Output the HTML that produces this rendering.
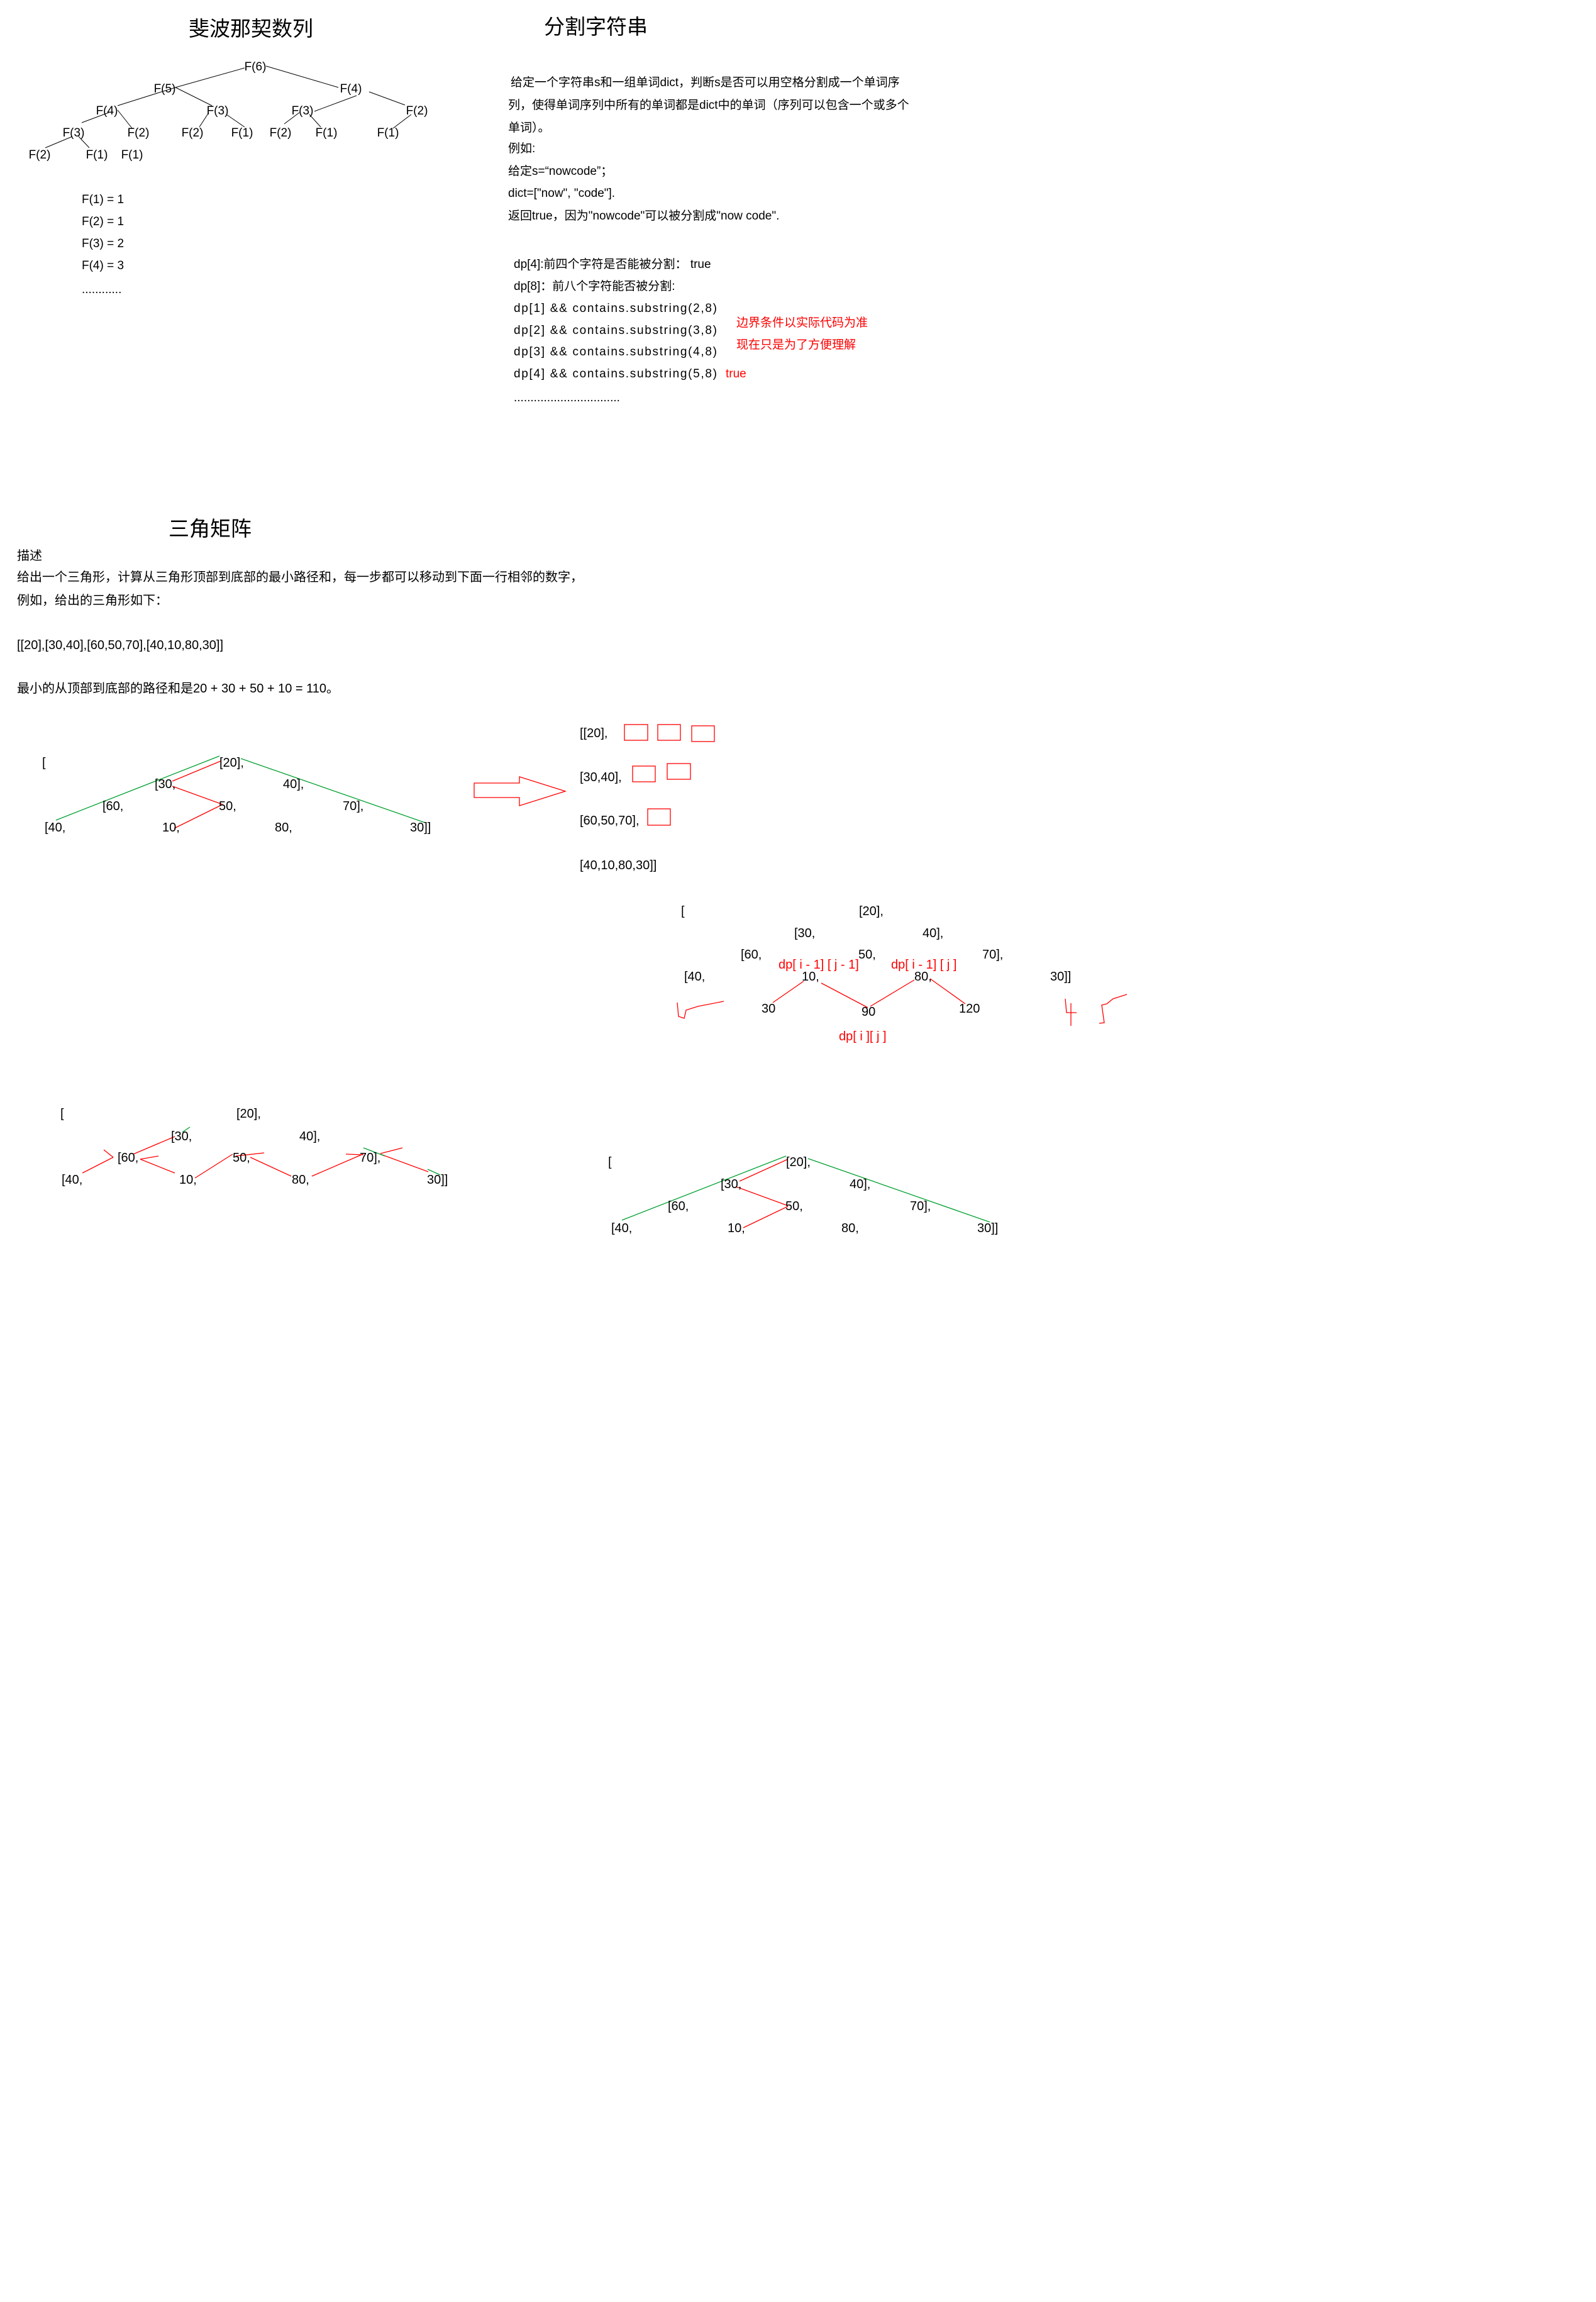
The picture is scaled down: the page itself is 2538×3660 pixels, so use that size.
<!DOCTYPE html>
<html><head><meta charset="utf-8">
<style>
html,body{margin:0;padding:0;background:#fff;}
svg{display:block;}
text{font-family:"Liberation Sans","Noto Sans CJK SC",sans-serif;fill:#000;}
.t{font-size:33px;}
.f{font-size:19px;}
.n{font-size:20px;}
.r{fill:#ff0000;}
.k{stroke:#000;stroke-width:1;fill:none;}
.g{stroke:#00a030;stroke-width:1.3;fill:none;}
.rl{stroke:#ff0000;stroke-width:1.3;fill:none;}
</style></head>
<body>
<svg width="2538" height="3660" viewBox="0 0 2538 3660" xmlns="http://www.w3.org/2000/svg">
<rect width="2538" height="3660" fill="#fff"/>

<g>
<text class="t" x="300" y="57">斐波那契数列</text>
<g>
<line class="k" x1="389" y1="108" x2="279" y2="139"/>
<line class="k" x1="423" y1="105" x2="538" y2="139"/>
<line class="k" x1="587" y1="146" x2="644" y2="167"/>
<line class="k" x1="279" y1="139" x2="187" y2="168"/>
<line class="k" x1="279" y1="139" x2="337" y2="168"/>
<line class="k" x1="567" y1="152" x2="500" y2="177"/>
<line class="k" x1="173" y1="179" x2="130" y2="195"/>
<line class="k" x1="187" y1="175" x2="210" y2="204"/>
<line class="k" x1="332" y1="179" x2="317" y2="202"/>
<line class="k" x1="360" y1="182" x2="389" y2="202"/>
<line class="k" x1="476" y1="179" x2="452" y2="197"/>
<line class="k" x1="492" y1="182" x2="510" y2="202"/>
<line class="k" x1="654" y1="182" x2="625" y2="204"/>
<line class="k" x1="115" y1="217" x2="72" y2="235"/>
<line class="k" x1="125" y1="217" x2="142" y2="235"/>
</g>
<g class="f" text-anchor="middle">
<text x="406" y="112">F(6)</text>
<text x="262" y="147">F(5)</text>
<text x="558" y="147">F(4)</text>
<text x="170" y="182">F(4)</text>
<text x="346" y="182">F(3)</text>
<text x="481" y="182">F(3)</text>
<text x="663" y="182">F(2)</text>
<text x="117" y="217">F(3)</text>
<text x="220" y="217">F(2)</text>
<text x="306" y="217">F(2)</text>
<text x="385" y="217">F(1)</text>
<text x="446" y="217">F(2)</text>
<text x="519" y="217">F(1)</text>
<text x="617" y="217">F(1)</text>
<text x="63" y="252">F(2)</text>
<text x="154" y="252">F(1)</text>
<text x="210" y="252">F(1)</text>
</g>
<g class="f">
<text x="130" y="323">F(1) = 1</text>
<text x="130" y="358">F(2) = 1</text>
<text x="130" y="393">F(3) = 2</text>
<text x="130" y="428">F(4) = 3</text>
<text x="130" y="466">............</text>
</g>
</g>

<g>
<text class="t" x="865" y="54">分割字符串</text>
<g class="f">
<text x="812" y="137">给定一个字符串s和一组单词dict，判断s是否可以用空格分割成一个单词序</text>
<text x="808" y="173">列，使得单词序列中所有的单词都是dict中的单词（序列可以包含一个或多个</text>
<text x="808" y="209">单词）。</text>
<text x="808" y="242">例如:</text>
<text x="808" y="278">给定s=“nowcode”；</text>
<text x="808" y="313">dict=["now", "code"].</text>
<text x="808" y="349">返回true，因为"nowcode"可以被分割成"now code".</text>
</g>
<g class="f">
<text x="817" y="426">dp[4]:前四个字符是否能被分割：  true</text>
<text x="817" y="461">dp[8]：前八个字符能否被分割:</text>
<text x="817" y="496" textLength="323" lengthAdjust="spacing">dp[1] &amp;&amp;  contains.substring(2,8)</text>
<text x="817" y="531" textLength="323" lengthAdjust="spacing">dp[2] &amp;&amp;  contains.substring(3,8)</text>
<text x="817" y="565" textLength="323" lengthAdjust="spacing">dp[3] &amp;&amp;  contains.substring(4,8)</text>
<text x="817" y="600" textLength="323" lengthAdjust="spacing">dp[4] &amp;&amp;  contains.substring(5,8)</text>
<text class="r" x="1154" y="600">true</text>
<text x="817" y="638">................................</text>
</g>
<g class="f">
<text class="r" x="1171" y="519">边界条件以实际代码为准</text>
<text class="r" x="1171" y="554">现在只是为了方便理解</text>
</g>
</g>

<g>
<text class="t" x="268" y="852">三角矩阵</text>
<g class="n">
<text x="27" y="890">描述</text>
<text x="27" y="924">给出一个三角形，计算从三角形顶部到底部的最小路径和，每一步都可以移动到下面一行相邻的数字，</text>
<text x="27" y="961">例如，给出的三角形如下：</text>
<text x="27" y="1032">[[20],[30,40],[60,50,70],[40,10,80,30]]</text>
<text x="27" y="1101">最小的从顶部到底部的路径和是20 + 30 + 50 + 10 = 110。</text>
</g>

<g>
<line class="g" x1="349" y1="1202" x2="89" y2="1304"/>
<line class="g" x1="383" y1="1206" x2="676" y2="1308"/>
<line class="rl" x1="351" y1="1210" x2="274" y2="1242"/>
<line class="rl" x1="274" y1="1250" x2="354" y2="1279"/>
<line class="rl" x1="354" y1="1279" x2="277" y2="1317"/>
<g class="n">
<text x="67" y="1219">[</text>
<text x="349" y="1219">[20],</text>
<text x="246" y="1253">[30,</text>
<text x="450" y="1253">40],</text>
<text x="163" y="1288">[60,</text>
<text x="348" y="1288">50,</text>
<text x="545" y="1288">70],</text>
<text x="71" y="1322">[40,</text>
<text x="258" y="1322">10,</text>
<text x="437" y="1322">80,</text>
<text x="652" y="1322">30]]</text>
</g>
</g>

<path class="rl" d="M754 1245 H826 V1235 L899 1258 L826 1281 V1268 H754 Z"/>

<g>
<g class="n">
<text x="922" y="1172">[[20],</text>
<text x="922" y="1242">[30,40],</text>
<text x="922" y="1311">[60,50,70],</text>
<text x="922" y="1382">[40,10,80,30]]</text>
</g>
<rect class="rl" x="993" y="1152" width="37" height="25"/>
<rect class="rl" x="1046" y="1152" width="36" height="25"/>
<rect class="rl" x="1100" y="1154" width="36" height="25"/>
<rect class="rl" x="1006" y="1218" width="36" height="25"/>
<rect class="rl" x="1061" y="1214" width="37" height="25"/>
<rect class="rl" x="1030" y="1286" width="36" height="26"/>
</g>

<g>
<line class="rl" x1="1278" y1="1560" x2="1229" y2="1594"/>
<line class="rl" x1="1306" y1="1563" x2="1380" y2="1602"/>
<line class="rl" x1="1384" y1="1600" x2="1454" y2="1558"/>
<line class="rl" x1="1479" y1="1556" x2="1535" y2="1596"/>
<g class="n">
<text x="1083" y="1455">[</text>
<text x="1366" y="1455">[20],</text>
<text x="1263" y="1490">[30,</text>
<text x="1467" y="1490">40],</text>
<text x="1178" y="1524">[60,</text>
<text x="1365" y="1524">50,</text>
<text x="1562" y="1524">70],</text>
<text x="1088" y="1559">[40,</text>
<text x="1275" y="1559">10,</text>
<text x="1454" y="1559">80,</text>
<text x="1670" y="1559">30]]</text>
<text x="1211" y="1610">30</text>
<text x="1370" y="1615">90</text>
<text x="1525" y="1610">120</text>
<text class="r" x="1238" y="1540">dp[ i - 1] [ j - 1]</text>
<text class="r" x="1417" y="1540">dp[ i - 1] [ j ]</text>
<text class="r" x="1334" y="1654">dp[ i ][ j ]</text>
</g>
<path class="rl" d="M1077 1594 L1079 1616 L1088 1619 L1091 1606 L1110 1600 L1151 1592"/>
<path class="rl" d="M1694 1588 L1696 1610 L1712 1610 M1703 1595 L1703 1631 M1748 1627 L1756 1626 L1752 1598 L1760 1596 L1770 1588 L1792 1581"/>
</g>

<g>
<line class="rl" x1="131" y1="1865" x2="180" y2="1840"/>
<line class="rl" x1="212" y1="1835" x2="278" y2="1807"/>
<line class="rl" x1="223" y1="1843" x2="278" y2="1865"/>
<line class="rl" x1="310" y1="1873" x2="370" y2="1835"/>
<line class="rl" x1="398" y1="1840" x2="463" y2="1870"/>
<line class="rl" x1="496" y1="1870" x2="577" y2="1835"/>
<line class="rl" x1="605" y1="1835" x2="681" y2="1863"/>
<line class="rl" x1="165" y1="1828" x2="180" y2="1840"/>
<line class="rl" x1="223" y1="1843" x2="252" y2="1838"/>
<line class="rl" x1="375" y1="1838" x2="420" y2="1833"/>
<line class="rl" x1="550" y1="1835" x2="578" y2="1836"/>
<line class="rl" x1="605" y1="1834" x2="640" y2="1825"/>
<line class="g" x1="290" y1="1800" x2="302" y2="1792"/>
<line class="g" x1="578" y1="1825" x2="612" y2="1838"/>
<line class="g" x1="680" y1="1859" x2="700" y2="1868"/>
<g class="n">
<text x="96" y="1777">[</text>
<text x="376" y="1777">[20],</text>
<text x="272" y="1813">[30,</text>
<text x="476" y="1813">40],</text>
<text x="187" y="1847">[60,</text>
<text x="370" y="1847">50,</text>
<text x="572" y="1847">70],</text>
<text x="98" y="1882">[40,</text>
<text x="285" y="1882">10,</text>
<text x="464" y="1882">80,</text>
<text x="679" y="1882">30]]</text>
</g>
</g>

<g>
<line class="g" x1="1250" y1="1838" x2="989" y2="1940"/>
<line class="g" x1="1285" y1="1842" x2="1574" y2="1943"/>
<line class="rl" x1="1253" y1="1843" x2="1176" y2="1878"/>
<line class="rl" x1="1171" y1="1887" x2="1253" y2="1917"/>
<line class="rl" x1="1253" y1="1918" x2="1182" y2="1952"/>
<g class="n">
<text x="967" y="1854">[</text>
<text x="1250" y="1854">[20],</text>
<text x="1146" y="1889">[30,</text>
<text x="1351" y="1889">40],</text>
<text x="1062" y="1924">[60,</text>
<text x="1249" y="1924">50,</text>
<text x="1447" y="1924">70],</text>
<text x="972" y="1959">[40,</text>
<text x="1157" y="1959">10,</text>
<text x="1338" y="1959">80,</text>
<text x="1554" y="1959">30]]</text>
</g>
</g>
</g>
</svg>
</body></html>
